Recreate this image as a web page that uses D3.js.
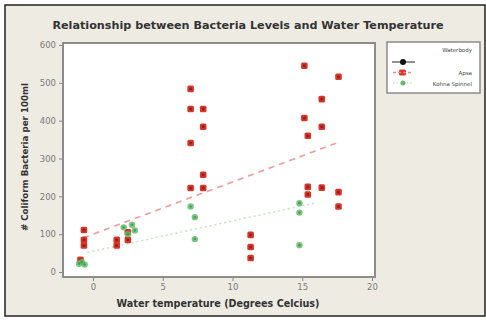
<!DOCTYPE html>
<html lang="en">
<head>
<meta charset="UTF-8">
<title>Bacteria vs Water Temperature</title>
<script src="https://d3js.org/d3.v7.min.js"></script>
<style>
  html, body { margin: 0; padding: 0; background: #fff; }
  svg text { font-family: 'DejaVu Sans', sans-serif; }
</style>
</head>
<body>
<div id="chart"></div>
<script>
// Apsa readings (temperature, coliform count)
const apsaTemp = [-0.9, -0.65, -0.65, -0.65, 1.7, 1.7, 2.5, 2.5,
  7.0, 7.0, 7.9, 7.9, 7.0, 7.9, 7.0, 7.9, 11.3, 11.3, 11.3,
  15.15, 17.6, 16.4, 15.15, 16.4, 15.4, 15.4, 15.4, 16.4, 17.6, 17.6];
const apsaCount = [32, 111, 85, 70, 85, 70, 85, 105,
  484, 431, 431, 384, 341, 257, 222, 222, 98, 66, 37,
  545, 516, 457, 407, 384, 360, 225, 205, 223, 211, 173];

// Kohna Spinnel readings
const kohnaTemp = [-1.0, -0.8, -0.6, 2.2, 2.5, 2.8, 3.0, 7.0, 7.3, 7.3, 14.8, 14.8, 14.8];
const kohnaCount = [22, 26, 20, 118, 100, 125, 110, 173, 145, 87, 182, 157, 71];

// fitted lines [intercept, slope, xFrom, xTo]
const apsaFit = [100, 13.8, -0.7, 17.6];
const kohnaFit = [55, 8.0, -0.4, 16.0];

const xTicks = [0, 5, 10, 15, 20];
const yTicks = [0, 100, 200, 300, 400, 500, 600];

const W = 486, H = 323;
const plot = { left: 63, top: 43, right: 375, bottom: 277 };

const svg = d3.select("#chart").append("svg")
  .attr("width", W).attr("height", H);

// outer frame
svg.append("rect").attr("x", 5).attr("y", 5).attr("width", 480).attr("height", 311)
  .attr("fill", "#eeebe3").attr("stroke", "#222").attr("stroke-width", 1.5);

const x = d3.scaleLinear().domain([0, 20]).range([93, 372]);
const y = d3.scaleLinear().domain([0, 600]).range([272, 45]);

// plot area
svg.append("rect")
  .attr("x", plot.left).attr("y", plot.top)
  .attr("width", plot.right - plot.left).attr("height", plot.bottom - plot.top)
  .attr("fill", "#fff").attr("stroke", "#8c8c8c").attr("stroke-width", 2);

// axes
const xAxis = svg.append("g").attr("transform", `translate(0,${plot.bottom + 1})`)
  .call(d3.axisBottom(x).tickValues(xTicks).tickSize(3).tickPadding(3));
const yAxis = svg.append("g").attr("transform", `translate(${plot.left - 1},0)`)
  .call(d3.axisLeft(y).tickValues(yTicks).tickSize(3).tickPadding(3));
[xAxis, yAxis].forEach(g => {
  g.select(".domain").remove();
  g.selectAll("line").attr("stroke", "#888");
  g.selectAll("text").attr("fill", "#7a7a7a").attr("font-size", 8.5);
});

// trend lines
function fitLine(fit, color, dash, width) {
  const [b, m, x0, x1] = fit;
  svg.append("line")
    .attr("x1", x(x0)).attr("y1", y(b + m * x0))
    .attr("x2", x(x1)).attr("y2", y(b + m * x1))
    .attr("stroke", color).attr("stroke-width", width)
    .attr("stroke-dasharray", dash).attr("opacity", 0.8);
}
fitLine(apsaFit, "#ec8a86", "6,5", 1.7);
fitLine(kohnaFit, "#b5dcbd", "2,3", 1.5);

// points
const apsa = apsaTemp.map((t, i) => [t, apsaCount[i]]);
const kohna = kohnaTemp.map((t, i) => [t, kohnaCount[i]]);

const ga = svg.append("g");
ga.selectAll("rect").data(apsa).join("rect")
  .attr("x", d => x(d[0]) - 3.3).attr("y", d => y(d[1]) - 3.3)
  .attr("width", 6.6).attr("height", 6.6).attr("rx", 1.5)
  .attr("fill", "#d8362a");
ga.selectAll("circle").data(apsa).join("circle")
  .attr("cx", d => x(d[0])).attr("cy", d => y(d[1])).attr("r", 1.6)
  .attr("fill", "#8a1c14").attr("opacity", 0.8);

const gk = svg.append("g");
gk.selectAll("circle.o").data(kohna).join("circle").attr("class", "o")
  .attr("cx", d => x(d[0])).attr("cy", d => y(d[1])).attr("r", 3.2)
  .attr("fill", "#62bd6c").attr("opacity", 0.85);
gk.selectAll("circle.i").data(kohna).join("circle").attr("class", "i")
  .attr("cx", d => x(d[0])).attr("cy", d => y(d[1])).attr("r", 1.3)
  .attr("fill", "#3c8a48").attr("opacity", 0.7);

// titles
svg.append("text").attr("x", 248).attr("y", 29).attr("text-anchor", "middle")
  .attr("font-size", 11.2).attr("font-weight", "bold").attr("fill", "#333")
  .text("Relationship between Bacteria Levels and Water Temperature");
svg.append("text").attr("x", 218).attr("y", 307).attr("text-anchor", "middle")
  .attr("font-size", 9.6).attr("font-weight", "bold").attr("fill", "#333")
  .text("Water temperature (Degrees Celcius)");
svg.append("text").attr("transform", "translate(28,157) rotate(-90)")
  .attr("text-anchor", "middle")
  .attr("font-size", 8.7).attr("font-weight", "bold").attr("fill", "#333")
  .text("# Coliform Bacteria per 100ml");

// legend
const lg = svg.append("g");
lg.append("rect").attr("x", 387).attr("y", 42).attr("width", 93).attr("height", 51)
  .attr("fill", "#fff").attr("stroke", "#8c8c8c").attr("stroke-width", 1.5);
lg.append("text").attr("x", 472).attr("y", 52).attr("text-anchor", "end")
  .attr("font-size", 5.5).attr("fill", "#444").text("Waterbody");
lg.append("line").attr("x1", 392).attr("x2", 415).attr("y1", 62).attr("y2", 62)
  .attr("stroke", "#222").attr("stroke-width", 1);
lg.append("circle").attr("cx", 403).attr("cy", 62).attr("r", 3).attr("fill", "#111");

lg.append("rect").attr("x", 399).attr("y", 69.5).attr("width", 7).attr("height", 6).attr("rx", 1.5)
  .attr("fill", "#d8362a");
lg.append("line").attr("x1", 393).attr("x2", 413).attr("y1", 72.5).attr("y2", 72.5)
  .attr("stroke", "#ec8a86").attr("stroke-width", 1.5).attr("stroke-dasharray", "3,2");
lg.append("text").attr("x", 472).attr("y", 75).attr("text-anchor", "end")
  .attr("font-size", 5.5).attr("fill", "#444").text("Apsa");

lg.append("line").attr("x1", 393).attr("x2", 413).attr("y1", 83).attr("y2", 83)
  .attr("stroke", "#b5dcbd").attr("stroke-width", 1.2).attr("stroke-dasharray", "1.5,2");
lg.append("circle").attr("cx", 403).attr("cy", 83).attr("r", 2.5).attr("fill", "#62bd6c");
lg.append("text").attr("x", 472).attr("y", 85.5).attr("text-anchor", "end")
  .attr("font-size", 5.5).attr("fill", "#444").text("Kohna Spinnel");
</script>
</body>
</html>
